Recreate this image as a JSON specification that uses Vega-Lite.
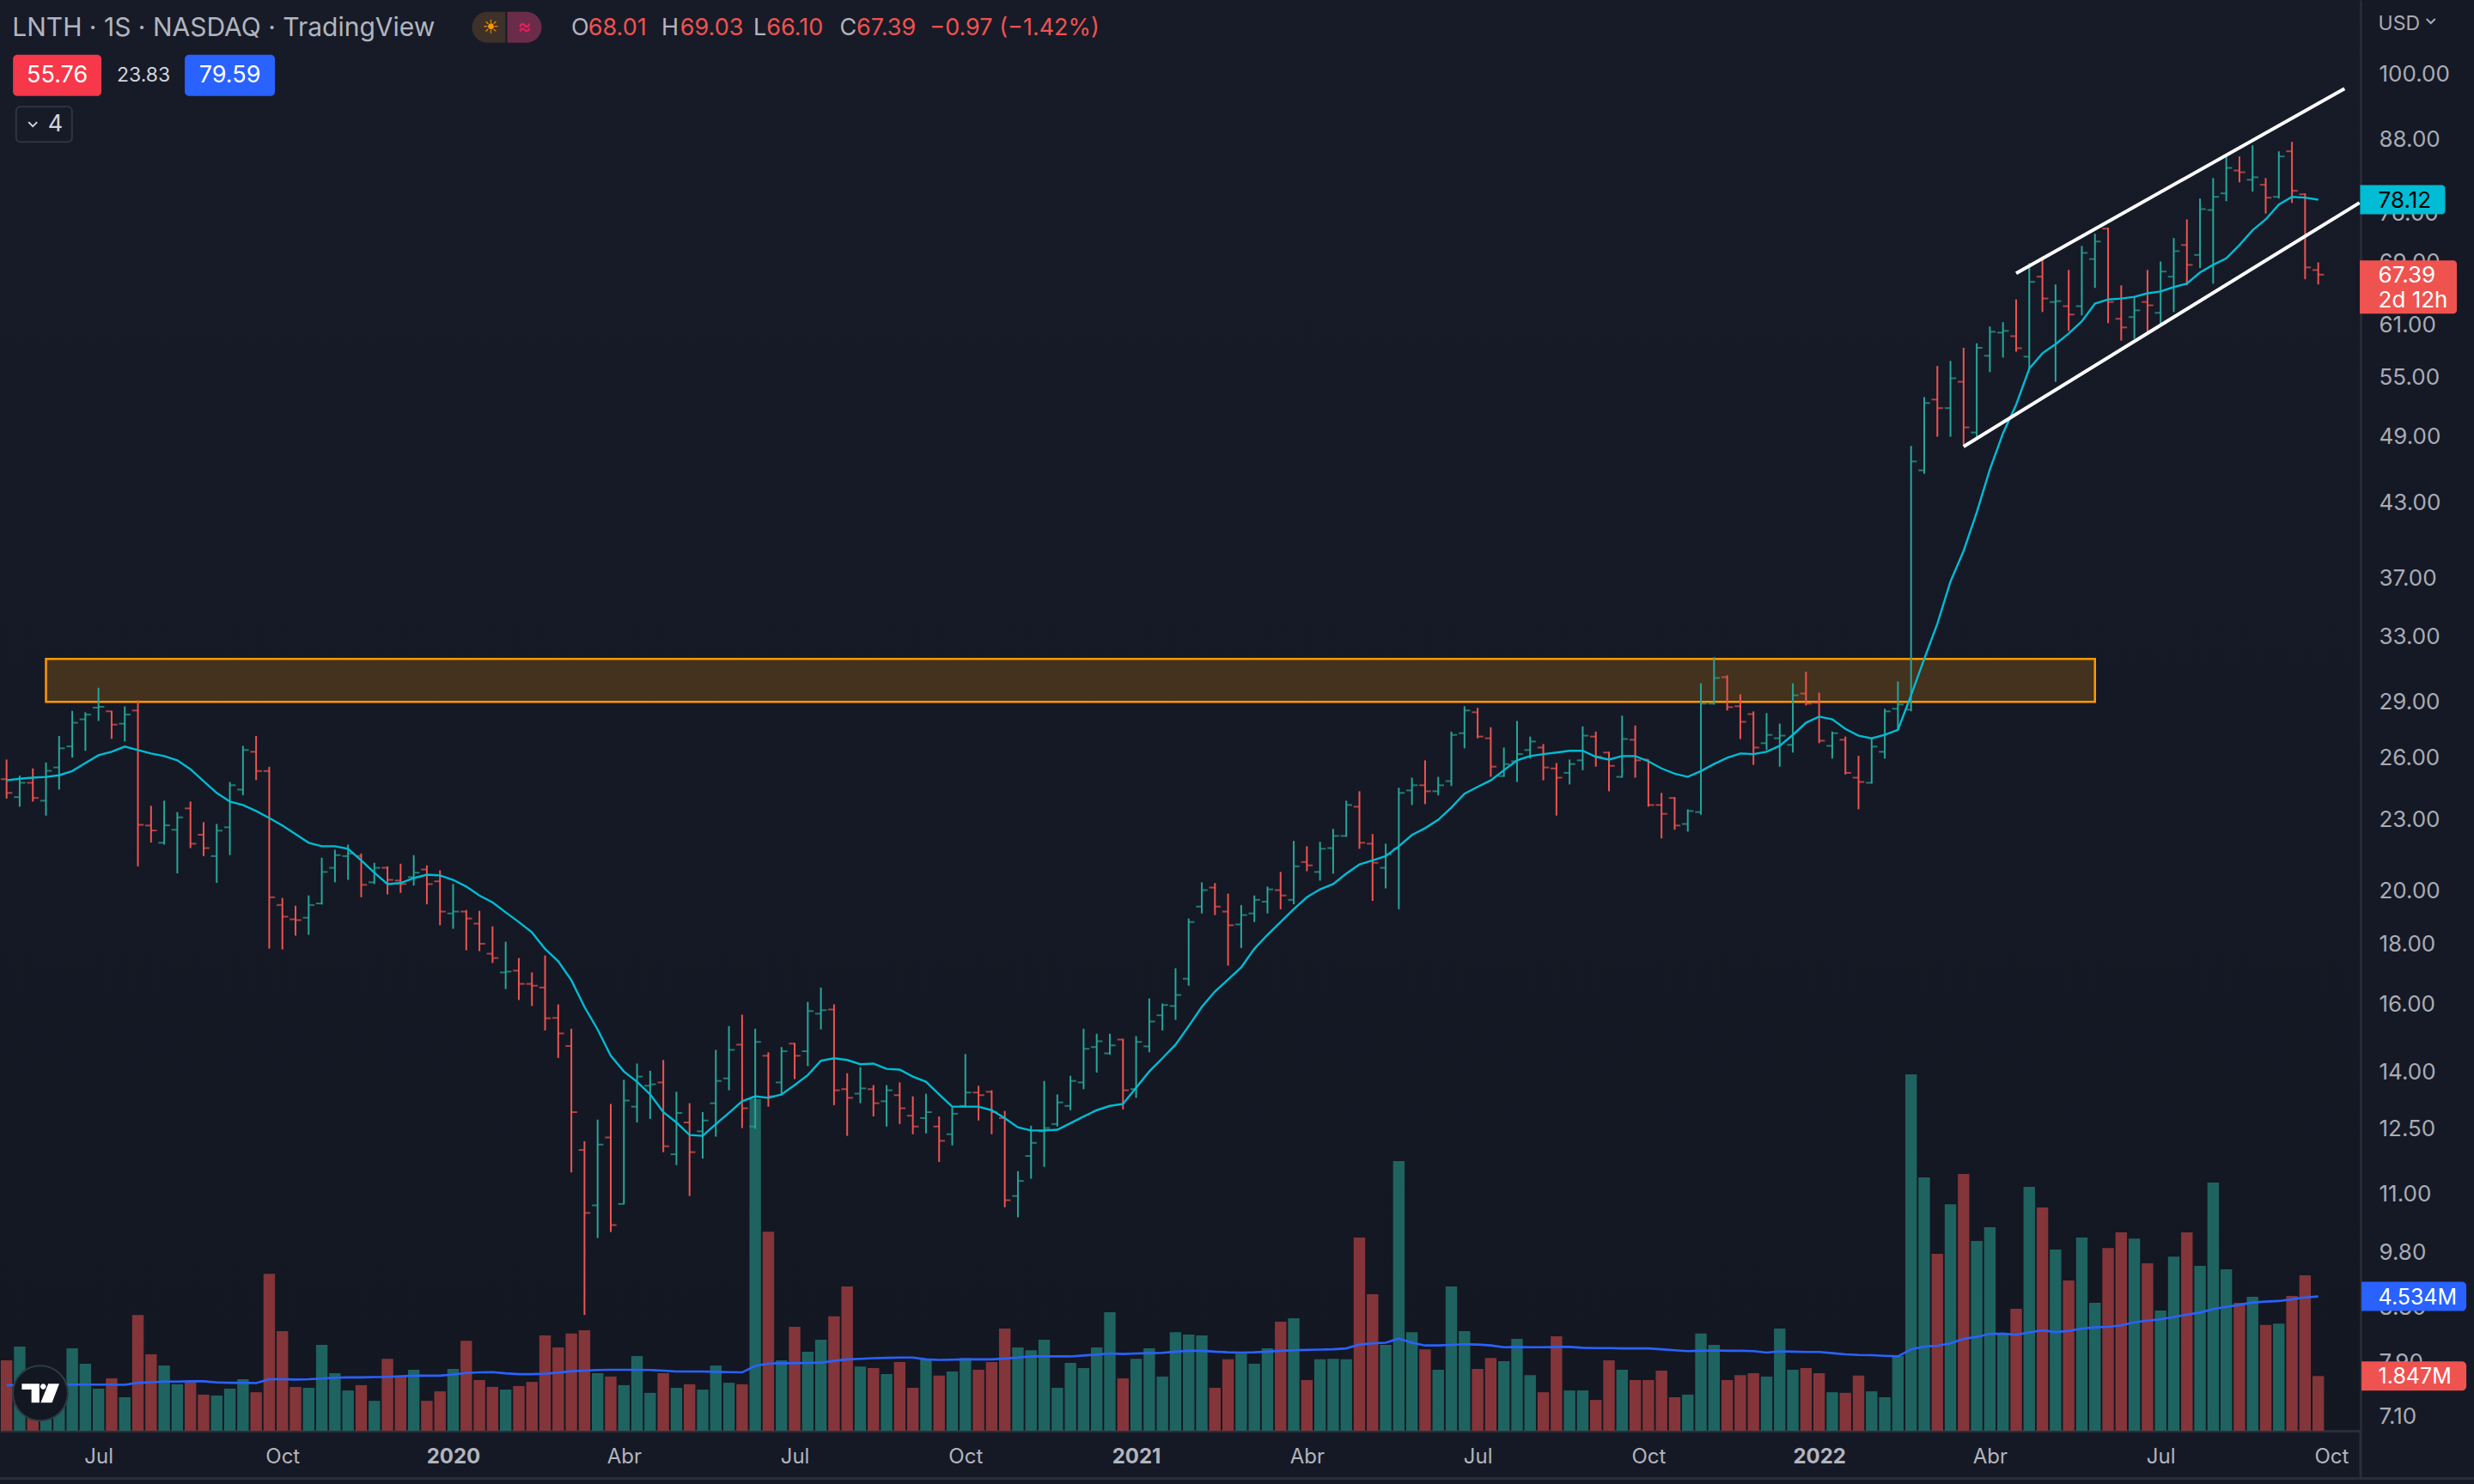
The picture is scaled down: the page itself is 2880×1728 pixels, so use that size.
{
"$schema":"https://vega.github.io/schema/vega-lite/v6.json",
"width":2748,"height":1666,
"autosize":"none",
"padding":{"left":0,"top":0,"right":132,"bottom":62},
"background":"#151925",
"config":{"view":{"stroke":null,"fill":{"gradient":"linear","x1":0,"y1":0,"x2":0,"y2":1,"stops":[{"offset":0,"color":"#171b28"},{"offset":1,"color":"#131722"}]}},"text":{"font":"Inter"},"axis":{"labelFont":"Inter"}},
"datasets":{"weekly":[
{"d":"2019-05-13","o":24.93,"h":25.91,"l":23.99,"c":24.26,"v":2.38,"ma":24.87,"vma":1.54,"s":"d"},
{"d":"2019-05-20","o":24.06,"h":25.10,"l":23.61,"c":24.75,"v":2.84,"ma":24.95,"vma":1.54,"s":"u"},
{"d":"2019-05-27","o":24.75,"h":25.46,"l":23.85,"c":24.02,"v":1.5,"ma":25.00,"vma":1.55,"s":"d"},
{"d":"2019-06-03","o":23.89,"h":25.76,"l":23.20,"c":25.34,"v":1.6,"ma":25.04,"vma":1.55,"s":"u"},
{"d":"2019-06-10","o":25.51,"h":27.14,"l":24.42,"c":26.49,"v":1.77,"ma":25.12,"vma":1.55,"s":"u"},
{"d":"2019-06-17","o":26.59,"h":28.52,"l":26.01,"c":27.86,"v":2.78,"ma":25.33,"vma":1.56,"s":"u"},
{"d":"2019-06-24","o":28.05,"h":28.44,"l":26.36,"c":28.31,"v":2.26,"ma":25.73,"vma":1.56,"s":"u"},
{"d":"2019-07-01","o":28.70,"h":29.85,"l":27.96,"c":28.75,"v":1.42,"ma":26.13,"vma":1.56,"s":"u"},
{"d":"2019-07-08","o":28.50,"h":28.52,"l":26.99,"c":27.76,"v":1.77,"ma":26.31,"vma":1.56,"s":"d"},
{"d":"2019-07-15","o":27.81,"h":28.77,"l":26.85,"c":28.31,"v":1.13,"ma":26.58,"vma":1.55,"s":"u"},
{"d":"2019-07-22","o":28.54,"h":29.12,"l":20.99,"c":22.78,"v":3.91,"ma":26.40,"vma":1.62,"s":"d"},
{"d":"2019-07-29","o":22.75,"h":23.65,"l":22.00,"c":22.53,"v":2.58,"ma":26.22,"vma":1.64,"s":"d"},
{"d":"2019-08-05","o":21.99,"h":23.89,"l":21.91,"c":22.76,"v":2.2,"ma":26.09,"vma":1.66,"s":"u"},
{"d":"2019-08-12","o":22.56,"h":23.36,"l":20.70,"c":23.12,"v":1.57,"ma":25.87,"vma":1.66,"s":"u"},
{"d":"2019-08-19","o":23.53,"h":23.85,"l":21.76,"c":21.95,"v":1.65,"ma":25.42,"vma":1.67,"s":"d"},
{"d":"2019-08-26","o":22.34,"h":22.90,"l":21.42,"c":21.76,"v":1.22,"ma":24.83,"vma":1.67,"s":"d"},
{"d":"2019-09-02","o":21.42,"h":22.82,"l":20.32,"c":22.52,"v":1.19,"ma":24.26,"vma":1.63,"s":"u"},
{"d":"2019-09-09","o":22.67,"h":24.79,"l":21.46,"c":24.63,"v":1.42,"ma":23.85,"vma":1.62,"s":"u"},
{"d":"2019-09-16","o":24.42,"h":26.62,"l":24.15,"c":26.40,"v":1.74,"ma":23.69,"vma":1.62,"s":"u"},
{"d":"2019-09-23","o":26.31,"h":27.14,"l":24.88,"c":25.33,"v":1.30,"ma":23.41,"vma":1.61,"s":"d"},
{"d":"2019-09-30","o":25.33,"h":25.54,"l":17.85,"c":19.75,"v":5.30,"ma":23.09,"vma":1.74,"s":"d"},
{"d":"2019-10-07","o":19.45,"h":19.72,"l":17.82,"c":19.01,"v":3.36,"ma":22.75,"vma":1.74,"s":"d"},
{"d":"2019-10-14","o":18.91,"h":19.42,"l":18.31,"c":18.88,"v":1.48,"ma":22.37,"vma":1.73,"s":"d"},
{"d":"2019-10-21","o":18.97,"h":19.82,"l":18.34,"c":19.45,"v":1.45,"ma":21.99,"vma":1.74,"s":"u"},
{"d":"2019-10-28","o":19.51,"h":21.35,"l":19.47,"c":20.76,"v":2.90,"ma":21.84,"vma":1.76,"s":"u"},
{"d":"2019-11-04","o":20.93,"h":21.69,"l":20.34,"c":21.46,"v":1.94,"ma":21.84,"vma":1.79,"s":"u"},
{"d":"2019-11-11","o":21.42,"h":21.91,"l":20.44,"c":21.53,"v":1.36,"ma":21.73,"vma":1.80,"s":"u"},
{"d":"2019-11-18","o":21.42,"h":21.53,"l":19.75,"c":20.24,"v":1.54,"ma":21.24,"vma":1.80,"s":"d"},
{"d":"2019-11-25","o":20.34,"h":21.14,"l":20.27,"c":20.93,"v":1.01,"ma":20.73,"vma":1.81,"s":"u"},
{"d":"2019-12-02","o":20.93,"h":20.99,"l":19.86,"c":20.44,"v":2.43,"ma":20.27,"vma":1.82,"s":"d"},
{"d":"2019-12-09","o":20.41,"h":21.10,"l":19.92,"c":20.27,"v":1.83,"ma":20.31,"vma":1.84,"s":"d"},
{"d":"2019-12-16","o":20.55,"h":21.46,"l":20.21,"c":20.73,"v":2.06,"ma":20.51,"vma":1.86,"s":"u"},
{"d":"2019-12-23","o":20.86,"h":21.03,"l":19.48,"c":20.27,"v":1.01,"ma":20.65,"vma":1.86,"s":"d"},
{"d":"2019-12-30","o":20.38,"h":20.83,"l":18.69,"c":19.20,"v":1.33,"ma":20.62,"vma":1.86,"s":"d"},
{"d":"2020-01-06","o":19.13,"h":20.27,"l":18.56,"c":19.20,"v":2.09,"ma":20.44,"vma":1.90,"s":"u"},
{"d":"2020-01-13","o":19.20,"h":19.26,"l":17.79,"c":18.94,"v":3.04,"ma":20.17,"vma":1.95,"s":"d"},
{"d":"2020-01-20","o":18.75,"h":19.23,"l":17.76,"c":18.02,"v":1.71,"ma":19.82,"vma":1.97,"s":"d"},
{"d":"2020-01-27","o":17.67,"h":18.65,"l":17.35,"c":17.52,"v":1.48,"ma":19.55,"vma":1.98,"s":"d"},
{"d":"2020-02-03","o":17.03,"h":18.09,"l":16.48,"c":17.06,"v":1.39,"ma":19.17,"vma":1.94,"s":"u"},
{"d":"2020-02-10","o":17.09,"h":17.52,"l":16.13,"c":16.65,"v":1.51,"ma":18.81,"vma":1.91,"s":"d"},
{"d":"2020-02-17","o":16.65,"h":17.03,"l":15.94,"c":16.59,"v":1.65,"ma":18.43,"vma":1.91,"s":"d"},
{"d":"2020-02-24","o":16.53,"h":17.61,"l":15.19,"c":15.56,"v":3.22,"ma":17.84,"vma":1.93,"s":"d"},
{"d":"2020-03-02","o":15.57,"h":15.99,"l":14.39,"c":15.10,"v":2.81,"ma":17.41,"vma":1.96,"s":"d"},
{"d":"2020-03-09","o":14.73,"h":15.24,"l":11.48,"c":12.93,"v":3.28,"ma":16.77,"vma":2.01,"s":"d"},
{"d":"2020-03-16","o":12.00,"h":12.21,"l":8.67,"c":10.60,"v":3.39,"ma":15.91,"vma":2.03,"s":"d"},
{"d":"2020-03-23","o":10.76,"h":12.74,"l":10.09,"c":12.13,"v":1.94,"ma":15.22,"vma":2.05,"s":"u"},
{"d":"2020-03-30","o":12.30,"h":13.14,"l":10.21,"c":10.35,"v":1.83,"ma":14.45,"vma":2.06,"s":"d"},
{"d":"2020-04-06","o":10.79,"h":13.78,"l":10.78,"c":13.23,"v":1.54,"ma":14.01,"vma":2.06,"s":"u"},
{"d":"2020-04-13","o":13.07,"h":14.23,"l":12.67,"c":13.87,"v":2.52,"ma":13.73,"vma":2.06,"s":"u"},
{"d":"2020-04-20","o":13.62,"h":14.03,"l":12.76,"c":13.66,"v":1.28,"ma":13.39,"vma":2.05,"s":"u"},
{"d":"2020-04-27","o":13.71,"h":14.33,"l":11.95,"c":12.09,"v":1.94,"ma":12.93,"vma":2.03,"s":"d"},
{"d":"2020-05-04","o":11.90,"h":13.46,"l":11.65,"c":12.91,"v":1.45,"ma":12.67,"vma":2.00,"s":"u"},
{"d":"2020-05-11","o":12.67,"h":13.16,"l":10.96,"c":11.95,"v":1.57,"ma":12.36,"vma":2.00,"s":"d"},
{"d":"2020-05-18","o":12.45,"h":12.93,"l":11.80,"c":12.72,"v":1.39,"ma":12.34,"vma":2.00,"s":"u"},
{"d":"2020-05-25","o":13.16,"h":14.62,"l":12.32,"c":13.75,"v":2.2,"ma":12.63,"vma":1.99,"s":"u"},
{"d":"2020-06-01","o":13.82,"h":15.32,"l":13.50,"c":14.62,"v":1.62,"ma":12.91,"vma":1.98,"s":"u"},
{"d":"2020-06-08","o":14.77,"h":15.67,"l":12.53,"c":13.03,"v":1.57,"ma":13.21,"vma":1.97,"s":"d"},
{"d":"2020-06-15","o":12.57,"h":15.24,"l":12.51,"c":14.85,"v":11.2,"ma":13.34,"vma":2.19,"s":"u"},
{"d":"2020-06-22","o":14.45,"h":14.55,"l":13.07,"c":13.34,"v":6.72,"ma":13.30,"vma":2.27,"s":"d"},
{"d":"2020-06-29","o":13.71,"h":14.70,"l":13.37,"c":14.58,"v":2.38,"ma":13.39,"vma":2.28,"s":"u"},
{"d":"2020-07-06","o":14.80,"h":14.82,"l":13.80,"c":14.45,"v":3.51,"ma":13.64,"vma":2.28,"s":"d"},
{"d":"2020-07-13","o":14.58,"h":16.07,"l":14.16,"c":15.78,"v":2.67,"ma":13.91,"vma":2.29,"s":"u"},
{"d":"2020-07-20","o":15.70,"h":16.53,"l":15.22,"c":15.81,"v":3.07,"ma":14.31,"vma":2.30,"s":"u"},
{"d":"2020-07-27","o":15.83,"h":15.99,"l":13.11,"c":13.50,"v":3.86,"ma":14.38,"vma":2.36,"s":"d"},
{"d":"2020-08-03","o":13.53,"h":13.96,"l":12.34,"c":13.30,"v":4.87,"ma":14.33,"vma":2.41,"s":"d"},
{"d":"2020-08-10","o":13.41,"h":14.13,"l":13.16,"c":13.55,"v":2.17,"ma":14.21,"vma":2.43,"s":"u"},
{"d":"2020-08-17","o":13.53,"h":13.64,"l":12.82,"c":13.16,"v":2.12,"ma":14.23,"vma":2.45,"s":"d"},
{"d":"2020-08-24","o":13.21,"h":13.64,"l":12.57,"c":13.50,"v":1.91,"ma":14.08,"vma":2.46,"s":"u"},
{"d":"2020-08-31","o":13.37,"h":13.71,"l":12.63,"c":13.03,"v":2.32,"ma":14.06,"vma":2.47,"s":"d"},
{"d":"2020-09-07","o":12.84,"h":13.34,"l":12.38,"c":12.57,"v":1.45,"ma":13.87,"vma":2.47,"s":"d"},
{"d":"2020-09-14","o":12.78,"h":13.41,"l":12.40,"c":12.93,"v":2.41,"ma":13.73,"vma":2.41,"s":"u"},
{"d":"2020-09-21","o":12.57,"h":12.82,"l":11.72,"c":12.22,"v":1.86,"ma":13.39,"vma":2.39,"s":"d"},
{"d":"2020-09-28","o":12.38,"h":13.05,"l":12.11,"c":12.89,"v":2.00,"ma":13.07,"vma":2.40,"s":"u"},
{"d":"2020-10-05","o":13.09,"h":14.50,"l":13.05,"c":13.44,"v":2.46,"ma":13.07,"vma":2.41,"s":"u"},
{"d":"2020-10-12","o":13.44,"h":13.62,"l":12.72,"c":13.37,"v":2.06,"ma":13.07,"vma":2.41,"s":"d"},
{"d":"2020-10-19","o":13.46,"h":13.50,"l":12.38,"c":12.93,"v":2.32,"ma":12.98,"vma":2.41,"s":"d"},
{"d":"2020-10-26","o":12.78,"h":12.96,"l":10.72,"c":10.87,"v":3.45,"ma":12.78,"vma":2.44,"s":"d"},
{"d":"2020-11-02","o":10.96,"h":11.51,"l":10.51,"c":11.29,"v":2.81,"ma":12.55,"vma":2.47,"s":"u"},
{"d":"2020-11-09","o":11.86,"h":12.59,"l":11.34,"c":12.17,"v":2.72,"ma":12.47,"vma":2.51,"s":"u"},
{"d":"2020-11-16","o":12.45,"h":13.75,"l":11.61,"c":12.53,"v":3.07,"ma":12.47,"vma":2.51,"s":"u"},
{"d":"2020-11-23","o":12.63,"h":13.39,"l":12.57,"c":13.18,"v":1.45,"ma":12.49,"vma":2.51,"s":"u"},
{"d":"2020-11-30","o":13.09,"h":13.89,"l":12.98,"c":13.75,"v":2.29,"ma":12.65,"vma":2.51,"s":"u"},
{"d":"2020-12-07","o":13.71,"h":15.24,"l":13.53,"c":14.65,"v":2.12,"ma":12.82,"vma":2.54,"s":"u"},
{"d":"2020-12-14","o":14.70,"h":15.09,"l":13.98,"c":14.87,"v":2.81,"ma":12.98,"vma":2.57,"s":"u"},
{"d":"2020-12-21","o":14.52,"h":15.09,"l":14.48,"c":14.75,"v":4.00,"ma":13.09,"vma":2.61,"s":"u"},
{"d":"2020-12-28","o":14.92,"h":14.94,"l":13.00,"c":13.50,"v":1.77,"ma":13.14,"vma":2.59,"s":"d"},
{"d":"2021-01-04","o":13.53,"h":15.02,"l":13.30,"c":14.85,"v":2.43,"ma":13.57,"vma":2.61,"s":"u"},
{"d":"2021-01-11","o":14.72,"h":16.18,"l":14.55,"c":15.46,"v":2.78,"ma":14.01,"vma":2.62,"s":"u"},
{"d":"2021-01-18","o":15.65,"h":16.02,"l":15.19,"c":15.97,"v":1.83,"ma":14.38,"vma":2.63,"s":"u"},
{"d":"2021-01-25","o":15.94,"h":17.17,"l":15.51,"c":16.29,"v":3.33,"ma":14.77,"vma":2.67,"s":"u"},
{"d":"2021-02-01","o":16.82,"h":18.94,"l":16.59,"c":18.81,"v":3.25,"ma":15.32,"vma":2.70,"s":"u"},
{"d":"2021-02-08","o":19.39,"h":20.34,"l":19.13,"c":20.03,"v":3.22,"ma":15.91,"vma":2.70,"s":"u"},
{"d":"2021-02-15","o":20.13,"h":20.31,"l":19.07,"c":19.39,"v":1.45,"ma":16.40,"vma":2.67,"s":"d"},
{"d":"2021-02-22","o":19.20,"h":19.89,"l":17.26,"c":18.69,"v":2.41,"ma":16.79,"vma":2.65,"s":"d"},
{"d":"2021-03-01","o":18.72,"h":19.45,"l":17.87,"c":19.07,"v":2.6,"ma":17.20,"vma":2.64,"s":"u"},
{"d":"2021-03-08","o":19.13,"h":19.82,"l":18.81,"c":19.65,"v":2.26,"ma":17.84,"vma":2.65,"s":"u"},
{"d":"2021-03-15","o":19.58,"h":20.17,"l":19.13,"c":20.06,"v":2.78,"ma":18.34,"vma":2.67,"s":"u"},
{"d":"2021-03-22","o":20.03,"h":20.76,"l":19.29,"c":19.82,"v":3.68,"ma":18.81,"vma":2.70,"s":"d"},
{"d":"2021-03-29","o":19.65,"h":22.07,"l":19.48,"c":20.99,"v":3.80,"ma":19.29,"vma":2.72,"s":"u"},
{"d":"2021-04-05","o":21.17,"h":21.84,"l":20.79,"c":21.03,"v":1.71,"ma":19.75,"vma":2.73,"s":"d"},
{"d":"2021-04-12","o":20.76,"h":22.03,"l":20.41,"c":21.73,"v":2.41,"ma":20.06,"vma":2.74,"s":"u"},
{"d":"2021-04-19","o":21.76,"h":22.60,"l":20.69,"c":22.29,"v":2.43,"ma":20.27,"vma":2.75,"s":"u"},
{"d":"2021-04-26","o":22.29,"h":23.89,"l":22.25,"c":23.69,"v":2.41,"ma":20.69,"vma":2.78,"s":"u"},
{"d":"2021-05-03","o":23.61,"h":24.34,"l":21.73,"c":21.99,"v":6.52,"ma":21.07,"vma":2.91,"s":"d"},
{"d":"2021-05-10","o":21.95,"h":22.37,"l":19.61,"c":21.14,"v":4.61,"ma":21.24,"vma":2.95,"s":"d"},
{"d":"2021-05-17","o":20.93,"h":21.95,"l":20.10,"c":21.50,"v":2.90,"ma":21.42,"vma":2.97,"s":"u"},
{"d":"2021-05-24","o":21.73,"h":24.51,"l":19.29,"c":24.26,"v":9.1,"ma":21.84,"vma":3.11,"s":"u"},
{"d":"2021-05-31","o":24.38,"h":25.00,"l":23.69,"c":24.63,"v":3.33,"ma":22.33,"vma":2.97,"s":"u"},
{"d":"2021-06-07","o":24.63,"h":25.87,"l":23.73,"c":24.34,"v":2.75,"ma":22.63,"vma":2.88,"s":"d"},
{"d":"2021-06-14","o":24.34,"h":25.04,"l":24.14,"c":24.63,"v":2.06,"ma":23.01,"vma":2.88,"s":"u"},
{"d":"2021-06-21","o":24.83,"h":27.38,"l":24.59,"c":27.20,"v":4.87,"ma":23.57,"vma":2.90,"s":"u"},
{"d":"2021-06-28","o":27.29,"h":28.78,"l":26.49,"c":28.54,"v":3.36,"ma":24.22,"vma":2.92,"s":"u"},
{"d":"2021-07-05","o":28.44,"h":28.69,"l":27.02,"c":27.11,"v":2.09,"ma":24.55,"vma":2.91,"s":"d"},
{"d":"2021-07-12","o":27.02,"h":27.61,"l":25.04,"c":25.55,"v":2.46,"ma":24.87,"vma":2.88,"s":"d"},
{"d":"2021-07-19","o":25.08,"h":26.53,"l":25.04,"c":25.68,"v":2.35,"ma":25.37,"vma":2.82,"s":"u"},
{"d":"2021-07-26","o":25.82,"h":27.96,"l":24.79,"c":26.19,"v":3.10,"ma":25.87,"vma":2.83,"s":"u"},
{"d":"2021-08-02","o":26.40,"h":27.11,"l":25.96,"c":26.85,"v":1.88,"ma":26.09,"vma":2.82,"s":"u"},
{"d":"2021-08-09","o":26.53,"h":26.71,"l":24.87,"c":25.51,"v":1.30,"ma":26.19,"vma":2.82,"s":"d"},
{"d":"2021-08-16","o":25.46,"h":25.73,"l":23.20,"c":25.00,"v":3.19,"ma":26.27,"vma":2.83,"s":"d"},
{"d":"2021-08-23","o":25.24,"h":25.91,"l":24.67,"c":25.68,"v":1.36,"ma":26.36,"vma":2.83,"s":"u"},
{"d":"2021-08-30","o":25.87,"h":27.66,"l":25.37,"c":27.16,"v":1.36,"ma":26.36,"vma":2.80,"s":"u"},
{"d":"2021-09-06","o":27.11,"h":27.38,"l":25.55,"c":26.05,"v":1.04,"ma":26.05,"vma":2.79,"s":"d"},
{"d":"2021-09-13","o":26.27,"h":26.31,"l":24.34,"c":25.59,"v":2.38,"ma":25.91,"vma":2.79,"s":"d"},
{"d":"2021-09-20","o":25.04,"h":28.25,"l":25.00,"c":26.98,"v":2.06,"ma":26.09,"vma":2.78,"s":"u"},
{"d":"2021-09-27","o":26.94,"h":27.71,"l":25.00,"c":25.87,"v":1.71,"ma":26.09,"vma":2.78,"s":"d"},
{"d":"2021-10-04","o":25.91,"h":25.91,"l":23.61,"c":23.69,"v":1.71,"ma":25.82,"vma":2.78,"s":"d"},
{"d":"2021-10-11","o":23.69,"h":24.26,"l":22.18,"c":23.28,"v":2.03,"ma":25.46,"vma":2.75,"s":"d"},
{"d":"2021-10-18","o":24.02,"h":24.06,"l":22.56,"c":22.75,"v":1.13,"ma":25.20,"vma":2.72,"s":"d"},
{"d":"2021-10-25","o":22.82,"h":23.49,"l":22.48,"c":23.41,"v":1.22,"ma":25.04,"vma":2.69,"s":"u"},
{"d":"2021-11-01","o":23.36,"h":30.11,"l":23.24,"c":28.93,"v":3.28,"ma":25.33,"vma":2.70,"s":"u"},
{"d":"2021-11-08","o":28.93,"h":31.70,"l":28.88,"c":30.43,"v":2.90,"ma":25.68,"vma":2.71,"s":"u"},
{"d":"2021-11-15","o":30.48,"h":30.59,"l":28.54,"c":28.73,"v":1.71,"ma":26.00,"vma":2.70,"s":"d"},
{"d":"2021-11-22","o":28.78,"h":29.46,"l":26.98,"c":27.91,"v":1.88,"ma":26.22,"vma":2.70,"s":"d"},
{"d":"2021-11-29","o":28.34,"h":28.49,"l":25.64,"c":26.53,"v":1.94,"ma":26.19,"vma":2.69,"s":"d"},
{"d":"2021-12-06","o":26.76,"h":28.39,"l":26.40,"c":27.20,"v":1.83,"ma":26.31,"vma":2.64,"s":"u"},
{"d":"2021-12-13","o":27.02,"h":27.81,"l":25.55,"c":27.16,"v":3.45,"ma":26.62,"vma":2.68,"s":"u"},
{"d":"2021-12-20","o":26.67,"h":30.11,"l":26.27,"c":29.41,"v":2.06,"ma":27.20,"vma":2.67,"s":"u"},
{"d":"2021-12-27","o":29.51,"h":30.80,"l":28.83,"c":28.93,"v":2.12,"ma":27.86,"vma":2.66,"s":"d"},
{"d":"2022-01-03","o":28.98,"h":29.56,"l":26.76,"c":26.89,"v":1.94,"ma":28.20,"vma":2.66,"s":"d"},
{"d":"2022-01-10","o":26.62,"h":27.38,"l":25.96,"c":27.29,"v":1.30,"ma":28.05,"vma":2.62,"s":"u"},
{"d":"2022-01-17","o":26.94,"h":27.11,"l":25.16,"c":25.24,"v":1.28,"ma":27.52,"vma":2.58,"s":"d"},
{"d":"2022-01-24","o":25.00,"h":26.10,"l":23.49,"c":24.79,"v":1.86,"ma":27.16,"vma":2.56,"s":"d"},
{"d":"2022-01-31","o":24.75,"h":27.02,"l":24.71,"c":26.58,"v":1.33,"ma":27.02,"vma":2.55,"s":"u"},
{"d":"2022-02-07","o":26.31,"h":28.64,"l":25.96,"c":28.49,"v":1.13,"ma":27.20,"vma":2.53,"s":"u"},
{"d":"2022-02-14","o":28.64,"h":30.22,"l":27.43,"c":28.88,"v":2.52,"ma":27.47,"vma":2.51,"s":"u"},
{"d":"2022-02-21","o":28.59,"h":48.08,"l":28.49,"c":46.63,"v":12.03,"ma":29.41,"vma":2.75,"s":"u"},
{"d":"2022-02-28","o":45.82,"h":52.94,"l":45.51,"c":52.32,"v":8.55,"ma":31.59,"vma":2.84,"s":"u"},
{"d":"2022-03-07","o":52.68,"h":56.28,"l":48.96,"c":51.80,"v":5.97,"ma":33.86,"vma":2.87,"s":"d"},
{"d":"2022-03-14","o":51.80,"h":56.85,"l":48.96,"c":54.94,"v":7.65,"ma":36.80,"vma":2.95,"s":"u"},
{"d":"2022-03-21","o":54.56,"h":58.34,"l":48.08,"c":49.87,"v":8.67,"ma":39.09,"vma":3.10,"s":"d"},
{"d":"2022-03-28","o":49.37,"h":58.86,"l":48.80,"c":58.34,"v":6.41,"ma":42.17,"vma":3.17,"s":"u"},
{"d":"2022-04-04","o":57.43,"h":60.84,"l":55.61,"c":60.21,"v":6.87,"ma":45.90,"vma":3.27,"s":"u"},
{"d":"2022-04-11","o":60.11,"h":61.36,"l":57.23,"c":60.32,"v":3.29,"ma":49.29,"vma":3.28,"s":"u"},
{"d":"2022-04-18","o":59.69,"h":64.17,"l":57.90,"c":58.29,"v":4.12,"ma":52.15,"vma":3.24,"s":"d"},
{"d":"2022-04-25","o":57.33,"h":68.93,"l":55.99,"c":66.44,"v":8.23,"ma":55.99,"vma":3.32,"s":"u"},
{"d":"2022-05-02","o":67.12,"h":69.84,"l":62.60,"c":64.29,"v":7.54,"ma":57.71,"vma":3.39,"s":"d"},
{"d":"2022-05-09","o":63.85,"h":66.10,"l":54.56,"c":63.96,"v":6.12,"ma":58.76,"vma":3.33,"s":"u"},
{"d":"2022-05-16","o":63.33,"h":68.02,"l":60.32,"c":62.29,"v":5.07,"ma":60.00,"vma":3.37,"s":"d"},
{"d":"2022-05-23","o":63.33,"h":71.32,"l":62.19,"c":70.34,"v":6.52,"ma":61.46,"vma":3.45,"s":"u"},
{"d":"2022-05-30","o":69.49,"h":73.05,"l":65.65,"c":71.94,"v":4.32,"ma":63.64,"vma":3.49,"s":"u"},
{"d":"2022-06-06","o":73.79,"h":73.91,"l":61.25,"c":63.85,"v":6.17,"ma":64.17,"vma":3.51,"s":"d"},
{"d":"2022-06-13","o":61.77,"h":65.98,"l":59.17,"c":60.73,"v":6.70,"ma":64.29,"vma":3.56,"s":"d"},
{"d":"2022-06-20","o":61.98,"h":64.51,"l":59.38,"c":62.81,"v":6.49,"ma":64.51,"vma":3.66,"s":"u"},
{"d":"2022-06-27","o":63.85,"h":68.02,"l":60.21,"c":63.44,"v":5.65,"ma":64.96,"vma":3.72,"s":"d"},
{"d":"2022-07-04","o":62.50,"h":69.15,"l":61.04,"c":67.80,"v":4.06,"ma":65.19,"vma":3.76,"s":"u"},
{"d":"2022-07-11","o":67.12,"h":72.43,"l":62.60,"c":70.58,"v":5.88,"ma":65.76,"vma":3.84,"s":"u"},
{"d":"2022-07-18","o":71.44,"h":75.14,"l":65.98,"c":68.70,"v":6.70,"ma":66.21,"vma":3.92,"s":"d"},
{"d":"2022-07-25","o":70.06,"h":78.30,"l":68.25,"c":76.68,"v":5.57,"ma":67.68,"vma":3.99,"s":"u"},
{"d":"2022-08-01","o":76.55,"h":81.52,"l":66.21,"c":78.56,"v":8.38,"ma":68.70,"vma":4.11,"s":"u"},
{"d":"2022-08-08","o":79.10,"h":85.36,"l":77.89,"c":83.17,"v":5.45,"ma":69.60,"vma":4.18,"s":"u"},
{"d":"2022-08-15","o":82.74,"h":85.07,"l":80.85,"c":82.46,"v":4.32,"ma":71.44,"vma":4.25,"s":"d"},
{"d":"2022-08-22","o":81.25,"h":86.96,"l":79.37,"c":81.65,"v":4.52,"ma":73.54,"vma":4.33,"s":"u"},
{"d":"2022-08-29","o":80.45,"h":81.52,"l":76.01,"c":78.43,"v":3.57,"ma":75.14,"vma":4.36,"s":"d"},
{"d":"2022-09-05","o":78.56,"h":85.94,"l":78.30,"c":85.07,"v":3.62,"ma":77.36,"vma":4.38,"s":"u"},
{"d":"2022-09-12","o":85.94,"h":87.55,"l":77.62,"c":79.50,"v":4.55,"ma":78.56,"vma":4.44,"s":"d"},
{"d":"2022-09-19","o":78.96,"h":79.10,"l":66.78,"c":68.36,"v":5.25,"ma":78.43,"vma":4.50,"s":"d"},
{"d":"2022-09-26","o":68.01,"h":69.03,"l":66.10,"c":67.39,"v":1.847,"ma":78.12,"vma":4.534,"s":"d"}
],
"head":[
{"d":"2019-05-16","p":109.6,"t":"LNTH · 1S · NASDAQ · TradingView","k":"title"},
{"d":"2020-03-09","p":109.6,"t":"O","k":"label"},
{"d":"2020-03-18","p":109.6,"t":"68.01","k":"loss"},
{"d":"2020-04-26","p":109.6,"t":"H","k":"label"},
{"d":"2020-05-06","p":109.6,"t":"69.03","k":"loss"},
{"d":"2020-06-14","p":109.6,"t":"L","k":"label"},
{"d":"2020-06-21","p":109.6,"t":"66.10","k":"loss"},
{"d":"2020-07-30","p":109.6,"t":"C","k":"label"},
{"d":"2020-08-08","p":109.6,"t":"67.39","k":"loss"},
{"d":"2020-09-16","p":109.6,"t":"−0.97 (−1.42%)","k":"loss"}
],
"channels":[
{"d":"2022-04-18","p":67.57,"line":"upper"},
{"d":"2022-10-10","p":97.23,"line":"upper"},
{"d":"2022-03-21","p":48.02,"line":"lower"},
{"d":"2022-10-18","p":77.65,"line":"lower"}
]},
"encoding":{"x":{"field":"d","type":"temporal","title":null,
  "scale":{"type":"utc","domain":["2019-05-09T12:00:00Z","2022-10-18T14:00:00Z"],"nice":false,"padding":0},
  "axis":{"values":["2019-07-01","2019-10-07","2020-01-06","2020-04-06","2020-07-06","2020-10-05","2021-01-04","2021-04-05","2021-07-05","2021-10-04","2022-01-03","2022-04-04","2022-07-04","2022-10-03"],
    "labelExpr":"utcmonth(datum.value)==0 ? utcFormat(datum.value,'%Y') : utcmonth(datum.value)==3 ? 'Abr' : utcmonth(datum.value)==6 ? 'Jul' : 'Oct'",
    "labelFontWeight":{"condition":{"test":"utcmonth(datum.value)==0","value":"bold"},"value":"normal"},
    "labelColor":"#b2b5be","labelFontSize":24,"labelBaseline":"middle","labelPadding":30,"labelOverlap":false,"labelFlush":false,
    "ticks":false,"grid":false,"domainColor":"#2a2e39","domainWidth":3}}},
"layer":[
{"layer":[
  {"data":{"name":"weekly"},"mark":{"type":"bar","width":13.4,"opacity":1},
   "encoding":{"y":{"field":"v","type":"quantitative","title":null,"scale":{"domain":[0,48.3],"nice":false},"axis":null},
     "fill":{"field":"s","type":"nominal","legend":null,"scale":{"domain":["u","d"],"range":["#1f6360","#843539"]}}}},
  {"data":{"name":"weekly"},"mark":{"type":"line","color":"#2962ff","strokeWidth":2.6},
   "encoding":{"y":{"field":"vma","type":"quantitative"}}},
  {"data":{"values":[{"d":"2022-11-16","v":4.534}]},"mark":{"type":"rect","width":122,"height":34,"color":"#2962ff","cornerRadiusTopRight":5,"cornerRadiusBottomRight":5},
   "encoding":{"y":{"field":"v","type":"quantitative"}}},
  {"data":{"values":[{"d":"2022-11-16","v":1.847}]},"mark":{"type":"rect","width":122,"height":34,"color":"#ef5350","cornerRadiusTopRight":5,"cornerRadiusBottomRight":5},
   "encoding":{"y":{"field":"v","type":"quantitative"}}},
  {"data":{"values":[{"d":"2022-10-28","v":4.534,"t":"4.534M"},{"d":"2022-10-28","v":1.847,"t":"1.847M"}]},"mark":{"type":"text","align":"left","baseline":"middle","fontSize":25,"dy":1,"color":"#ffffff"},
   "encoding":{"y":{"field":"v","type":"quantitative"},"text":{"field":"t"}}}
]},
{"layer":[
  {"data":{"values":[{"d":"2019-06-03","d2":"2022-05-30","p":31.59,"p2":29.03}]},"mark":{"type":"rect","fill":"#ff9800","fillOpacity":0.2,"stroke":"#ff9800","strokeWidth":2.5},
   "encoding":{"x2":{"field":"d2"},
     "y":{"field":"p","type":"quantitative","title":null,
       "scale":{"type":"log","domain":[6.9,115.8],"nice":false},
       "axis":{"orient":"right","values":[100,88,76,69,61,55,49,43,37,33,29,26,23,20,18,16,14,12.5,11,9.8,8.8,7.9,7.1],"format":".2f","labelColor":"#a9acb5","labelFontSize":26,"labelAlign":"left","labelBaseline":"middle","labelPadding":21,"labelOverlap":false,"labelFlush":false,"ticks":false,"grid":false,"domainColor":"#2a2e39","domainWidth":2.5}},
     "y2":{"field":"p2"}}},
  {"data":{"name":"weekly"},"mark":{"type":"rule","strokeWidth":2},
   "encoding":{"y":{"field":"l","type":"quantitative"},"y2":{"field":"h"},
     "color":{"field":"s","type":"nominal","legend":null,"scale":{"domain":["u","d"],"range":["#26a69a","#ef5350"]}}}},
  {"data":{"name":"weekly"},"mark":{"type":"tick","orient":"horizontal","size":6.5,"thickness":2,"xOffset":-3.5},
   "encoding":{"y":{"field":"o","type":"quantitative"},"color":{"field":"s","type":"nominal"}}},
  {"data":{"name":"weekly"},"mark":{"type":"tick","orient":"horizontal","size":6.5,"thickness":2,"xOffset":3.5},
   "encoding":{"y":{"field":"c","type":"quantitative"},"color":{"field":"s","type":"nominal"}}},
  {"data":{"name":"weekly"},"mark":{"type":"line","color":"#00bcd4","strokeWidth":2.4},
   "encoding":{"y":{"field":"ma","type":"quantitative"}}},
  {"data":{"name":"channels"},"mark":{"type":"line","color":"#ffffff","strokeWidth":4},
   "encoding":{"y":{"field":"p","type":"quantitative"},"detail":{"field":"line"}}},
  {"data":{"values":[{"d":"2022-11-10","p":78.12}]},"mark":{"type":"rect","width":99,"height":34,"color":"#00bcd4","cornerRadiusTopRight":4,"cornerRadiusBottomRight":4},
   "encoding":{"y":{"field":"p","type":"quantitative"}}},
  {"data":{"values":[{"d":"2022-11-13","p":65.76}]},"mark":{"type":"rect","width":113,"height":62,"color":"#ef5350","cornerRadiusTopRight":4,"cornerRadiusBottomRight":4},
   "encoding":{"y":{"field":"p","type":"quantitative"}}},
  {"data":{"values":[{"d":"2022-10-28","p":78.12,"t":"78.12"}]},"mark":{"type":"text","align":"left","baseline":"middle","fontSize":26,"dy":1,"color":"#000000"},
   "encoding":{"y":{"field":"p","type":"quantitative"},"text":{"field":"t"}}},
  {"data":{"values":[{"d":"2022-10-28","p":67.39,"t":"67.39"},{"d":"2022-10-28","p":64.16,"t":"2d 12h"}]},"mark":{"type":"text","align":"left","baseline":"middle","fontSize":26,"dy":1,"color":"#ffffff"},
   "encoding":{"y":{"field":"p","type":"quantitative"},"text":{"field":"t"}}},
  {"data":{"values":[{"d":"2022-10-28","p":110.5,"t":"USD"}]},"mark":{"type":"text","align":"left","baseline":"middle","fontSize":23,"color":"#a9acb5"},
   "encoding":{"y":{"field":"p","type":"quantitative"},"text":{"field":"t"}}},
  {"data":{"values":[{"d":"2022-11-25","p":111.1}]},"mark":{"type":"point","shape":"M-1 -0.5L0 0.5L1 -0.5","size":100,"filled":false,"stroke":"#a9acb5","strokeWidth":2,"opacity":1},
   "encoding":{"y":{"field":"p","type":"quantitative"}}},
  {"data":{"values":[{"d":"2022-10-18T14:00:00Z","d2":"2022-10-18T14:00:00Z","p":6.9,"p2":6.28},{"d":"2019-05-09T12:00:00Z","d2":"2022-12-18T00:00:00Z","p":6.28,"p2":6.28}]},"mark":{"type":"rule","color":"#2a2e39","strokeWidth":3},
   "encoding":{"x2":{"field":"d2"},"y":{"field":"p","type":"quantitative"},"y2":{"field":"p2"}}},
  {"data":{"values":[{"d":"2019-05-31","p":7.43}]},"mark":{"type":"point","shape":"circle","size":4096,"filled":true,"fill":"#131722","stroke":"#2b3d44","strokeWidth":2,"opacity":1},
   "encoding":{"y":{"field":"p","type":"quantitative"}}},
  {"data":{"values":[{"d":"2019-05-31","p":7.43}]},"mark":{"type":"point","shape":"M-0.98 -0.5H-0.05V0.5H-0.47V-0.2H-0.98Z M0 -0.35a0.15 0.15 0 1 0 0.3 0a0.15 0.15 0 1 0 -0.3 0Z M0.42 -0.5H1L0.62 0.5H0.02Z","size":1936,"filled":true,"fill":"#ffffff","strokeWidth":0,"opacity":1},
   "encoding":{"y":{"field":"p","type":"quantitative"}}},
  {"data":{"name":"head"},"transform":[{"filter":"datum.k=='title'"}],"mark":{"type":"text","align":"left","baseline":"middle","fontSize":30,"color":"#b2b5be"},
   "encoding":{"y":{"field":"p","type":"quantitative"},"text":{"field":"t"}}},
  {"data":{"name":"head"},"transform":[{"filter":"datum.k=='label'"}],"mark":{"type":"text","align":"left","baseline":"middle","fontSize":27,"color":"#b2b5be"},
   "encoding":{"y":{"field":"p","type":"quantitative"},"text":{"field":"t"}}},
  {"data":{"name":"head"},"transform":[{"filter":"datum.k=='loss'"}],"mark":{"type":"text","align":"left","baseline":"middle","fontSize":27,"color":"#ef5350"},
   "encoding":{"y":{"field":"p","type":"quantitative"},"text":{"field":"t"}}},
  {"data":{"values":[{"d":"2020-01-25","p":109.76}]},"mark":{"type":"rect","width":39,"height":36,"color":"#3e3129","cornerRadiusTopLeft":18,"cornerRadiusBottomLeft":18},
   "encoding":{"y":{"field":"p","type":"quantitative"}}},
  {"data":{"values":[{"d":"2020-02-13","p":109.76}]},"mark":{"type":"rect","width":40,"height":36,"color":"#6b2c49","cornerRadiusTopRight":18,"cornerRadiusBottomRight":18},
   "encoding":{"y":{"field":"p","type":"quantitative"}}},
  {"data":{"values":[{"d":"2020-01-26","p":109.76,"t":"☀"}]},"mark":{"type":"text","align":"center","baseline":"middle","fontSize":22,"font":"DejaVu Sans","color":"#ff9800"},
   "encoding":{"y":{"field":"p","type":"quantitative"},"text":{"field":"t"}}},
  {"data":{"values":[{"d":"2020-02-13","p":109.76,"t":"≈"}]},"mark":{"type":"text","align":"center","baseline":"middle","fontSize":24,"color":"#e91e63"},
   "encoding":{"y":{"field":"p","type":"quantitative"},"text":{"field":"t"}}},
  {"data":{"values":[{"d":"2019-06-09","p":99.83}]},"mark":{"type":"rect","width":103,"height":48,"color":"#f7374a","cornerRadius":5},
   "encoding":{"y":{"field":"p","type":"quantitative"}}},
  {"data":{"values":[{"d":"2019-09-09","p":99.83}]},"mark":{"type":"rect","width":105,"height":48,"color":"#2962ff","cornerRadius":5},
   "encoding":{"y":{"field":"p","type":"quantitative"}}},
  {"data":{"values":[{"d":"2019-06-09","p":99.83,"t":"55.76"},{"d":"2019-09-09","p":99.83,"t":"79.59"}]},"mark":{"type":"text","align":"center","baseline":"middle","fontSize":27,"color":"#ffffff"},
   "encoding":{"y":{"field":"p","type":"quantitative"},"text":{"field":"t"}}},
  {"data":{"values":[{"d":"2019-07-25","p":99.83,"t":"23.83"}]},"mark":{"type":"text","align":"center","baseline":"middle","fontSize":23,"color":"#d1d4dc"},
   "encoding":{"y":{"field":"p","type":"quantitative"},"text":{"field":"t"}}},
  {"data":{"values":[{"d":"2019-06-02","p":90.65}]},"mark":{"type":"rect","width":65,"height":41,"fillOpacity":0,"stroke":"#2f3441","strokeWidth":2,"cornerRadius":5},
   "encoding":{"y":{"field":"p","type":"quantitative"}}},
  {"data":{"values":[{"d":"2019-05-27","p":90.65}]},"mark":{"type":"point","shape":"M-1 -0.5L0 0.5L1 -0.5","size":100,"filled":false,"stroke":"#d1d4dc","strokeWidth":2,"opacity":1},
   "encoding":{"y":{"field":"p","type":"quantitative"}}},
  {"data":{"values":[{"d":"2019-06-08","p":90.65,"t":"4"}]},"mark":{"type":"text","align":"center","baseline":"middle","fontSize":27,"color":"#d1d4dc"},
   "encoding":{"y":{"field":"p","type":"quantitative"},"text":{"field":"t"}}}
]}
],
"resolve":{"scale":{"y":"independent"}}
}
